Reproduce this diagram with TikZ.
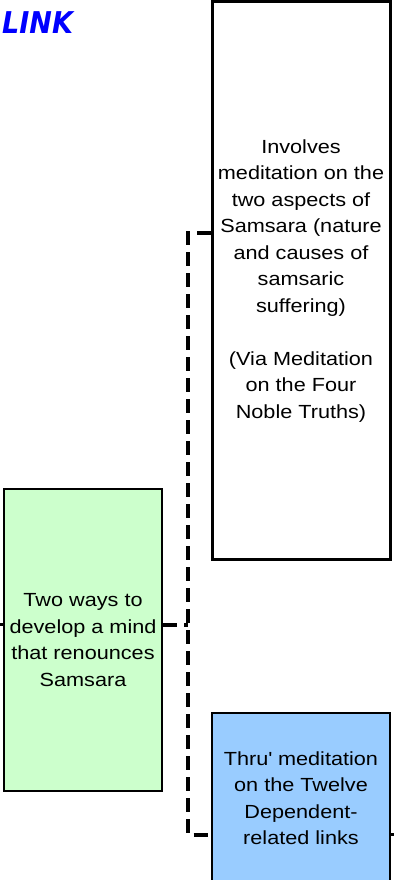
\documentclass[tikz,border=0pt]{standalone}
\usepackage{fontspec}
\setmainfont{Liberation Sans}[FakeStretch=1.14]
\newfontfamily\titlefont{DejaVu Sans}[FakeStretch=0.9]
\definecolor{boxgreen}{RGB}{204,255,204}
\definecolor{boxblue}{RGB}{153,204,255}
\definecolor{linkblue}{RGB}{0,0,255}
\tikzset{
  box/.style={draw,rectangle,align=center,inner sep=0pt,
    font=\fontsize{19}{26.5}\selectfont},
  dashlink/.style={line width=4pt,dash pattern=on 14pt off 7pt},
  stub/.style={line width=3pt}
}

\begin{document}
\begin{tikzpicture}[x=1pt,y=1pt]
\useasboundingbox (0,0) rectangle (394,880);
\node[anchor=base west,inner sep=0pt,text=linkblue,font=\titlefont\bfseries\itshape\fontsize{30}{32}\selectfont] (title) at (2,846) {LINK};

\node[box,line width=3pt,minimum width=178,minimum height=558] (samsara) at (301,599)
  {Involves\\meditation on the\\two aspects of\\Samsara (nature\\and causes of\\samsaric\\suffering)\\[26.5pt](Via Meditation\\on the Four\\Noble Truths)};
\node[box,line width=2pt,fill=boxgreen,minimum width=158,minimum height=302] (renounce) at (83,240)
  {Two ways to\\develop a mind\\that renounces\\Samsara};
\node[box,line width=2pt,fill=boxblue,minimum width=178,minimum height=170] (links) at (301,82)
  {Thru\textquotesingle{} meditation\\on the Twelve\\Dependent-\\related links};

% connectors
\coordinate (fork) at (188,255);
\coordinate (inleft) at (0,255);
\coordinate (outright) at (394,45);
\draw[dashlink] ([yshift=48pt]samsara.west) -| (fork) |- ([yshift=-37pt]links.west);
\draw[dashlink] ([yshift=15pt]renounce.east) -- (fork);
\draw[stub] (inleft) -- ([yshift=15pt]renounce.west);
\draw[stub] ([yshift=-37pt]links.east) -- (outright);
\end{tikzpicture}
\end{document}
